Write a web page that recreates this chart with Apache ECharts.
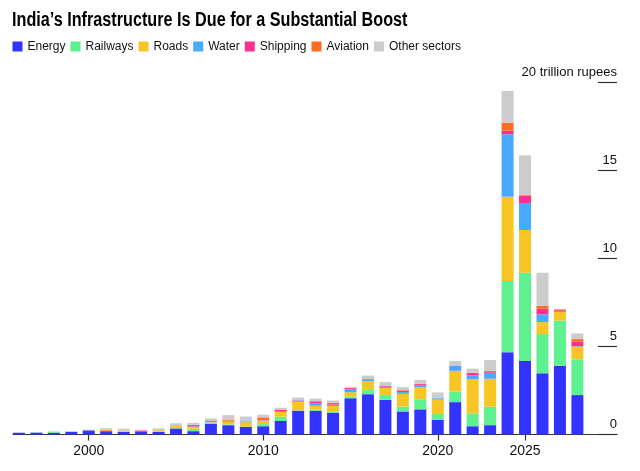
<!DOCTYPE html>
<html>
<head>
<meta charset="utf-8">
<script src="https://cdn.jsdelivr.net/npm/echarts@6/dist/echarts.min.js"></script>
<style>
html,body{margin:0;padding:0;background:#fff;}
#chart{width:640px;height:471px;}
</style>
</head>
<body>
<div id="chart"></div>
<script>
const years = [1996,1997,1998,1999,2000,2001,2002,2003,2004,2005,2006,2007,2008,2009,2010,2011,2012,2013,2014,2015,2016,2017,2018,2019,2020,2021,2022,2023,2024,2025,2026,2027,2028];
const energy   = [0.10,0.10,0.10,0.15,0.23,0.19,0.15,0.15,0.15,0.34,0.19,0.60,0.53,0.43,0.47,0.77,1.35,1.35,1.24,2.06,2.29,1.97,1.31,1.43,0.84,1.84,0.47,0.53,4.67,4.18,3.48,3.91,2.24];
const railways = [0,0,0.06,0,0,0,0,0,0.02,0.02,0.13,0.07,0.05,0.02,0.12,0.25,0.03,0.08,0.08,0.10,0.23,0.27,0.28,0.57,0.32,0.60,0.73,1.05,4.05,5.01,2.23,2.56,2.03];
const roads    = [0,0,0,0,0,0.03,0.05,0,0.08,0.12,0.10,0.03,0.14,0.25,0.20,0.26,0.48,0.20,0.30,0.24,0.52,0.40,0.72,0.68,0.82,1.18,1.94,1.59,4.79,2.43,0.68,0.51,0.72];
const water    = [0,0.02,0,0,0,0,0,0,0,0.03,0.03,0.08,0.03,0.05,0.02,0.02,0.07,0.15,0.05,0.18,0.10,0.08,0.10,0.10,0.08,0.30,0.22,0.34,3.55,1.53,0.44,0,0.03];
const shipping = [0,0,0,0,0.01,0,0,0.08,0,0,0.08,0.02,0.03,0,0.06,0.10,0.02,0.08,0.04,0.05,0.01,0.06,0.07,0.08,0,0,0.13,0.08,0.20,0.42,0.32,0.08,0.27];
const aviation = [0,0,0,0.01,0,0.05,0.01,0,0,0,0.03,0,0.04,0,0.10,0.02,0,0.04,0.10,0.02,0,0,0.04,0.02,0,0,0.02,0.02,0.46,0.05,0.17,0.05,0.13];
const other    = [0.02,0.01,0.02,0.04,0.04,0.09,0.12,0.04,0.10,0.13,0.10,0.11,0.28,0.27,0.15,0.10,0.15,0.14,0.12,0.06,0.20,0.20,0.17,0.22,0.33,0.26,0.23,0.62,1.80,2.24,1.87,0,0.32];
const xTickYears = [2000,2010,2020,2025];
const yTicks = [0,5,10,15,20];

const seriesDefs = [
  ['Energy', energy, '#3333ff'],
  ['Railways', railways, '#5ef18f'],
  ['Roads', roads, '#f8c624'],
  ['Water', water, '#47a9ff'],
  ['Shipping', shipping, '#ff2f8c'],
  ['Aviation', aviation, '#ff6b1f'],
  ['Other sectors', other, '#cccccc']
];

const chart = echarts.init(document.getElementById('chart'));
const FONT = '"Liberation Sans", Arial, sans-serif';
chart.setOption({
  animation: false,
  backgroundColor: '#fff',
  graphic: [{
    type: 'text', x: 12, y: 20, scaleX: 0.81,
    style: {
      text: 'India\u2019s Infrastructure Is Due for a Substantial Boost',
      font: 'bold 20px "Liberation Sans", Arial, sans-serif',
      fill: '#000', verticalAlign: 'middle', align: 'left'
    }
  }],
  legend: {
    left: 12.5, top: 40.5, padding: 0,
    itemWidth: 10, itemHeight: 10, itemGap: 5,
    icon: 'rect',
    textStyle: {fontFamily: FONT, fontSize: 12, color: '#111'},
    data: seriesDefs.map(d => d[0])
  },
  grid: [
    {left: 13, right: 23, top: 82.5, bottom: 36.5},
    {left: 598, right: 23, top: 82.5, bottom: 36.5}
  ],
  xAxis: [
    {
      type: 'value', gridIndex: 0,
      min: 1995.66, max: 2030.27,
      splitLine: {show: false},
      axisLine: {show: true, onZero: false, lineStyle: {color: '#333', width: 1.2}},
      axisTick: {show: true, customValues: xTickYears, length: 6, lineStyle: {color: '#333', width: 1.2}},
      axisLabel: {customValues: xTickYears, formatter: v => String(v), fontFamily: FONT, fontSize: 14, color: '#111', margin: 10}
    },
    {type: 'value', gridIndex: 1, show: false, min: 0, max: 1}
  ],
  yAxis: [
    {type: 'value', gridIndex: 0, min: 0, max: 20, interval: 5, show: false},
    {
      type: 'value', gridIndex: 1, min: 0, max: 20, interval: 5,
      position: 'right',
      axisLine: {show: false}, axisTick: {show: false},
      splitLine: {show: true, lineStyle: {color: '#333', width: 1.2}},
      axisLabel: {
        inside: true, margin: 0, verticalAlign: 'bottom', align: 'right',
        padding: [0,0,4,0],
        fontFamily: FONT, fontSize: 13, color: '#111',
        formatter: v => v === 20 ? '20 trillion rupees' : String(v)
      }
    }
  ],
  series: seriesDefs.map(d => ({
    name: d[0], type: 'bar', stack: 'total',
    xAxisIndex: 0, yAxisIndex: 0,
    barWidth: 12,
    encode: {x: 1, y: 0},
    itemStyle: {color: d[2]},
    data: years.map((y, i) => [d[1][i], y])
  }))
});
</script>
</body>
</html>
